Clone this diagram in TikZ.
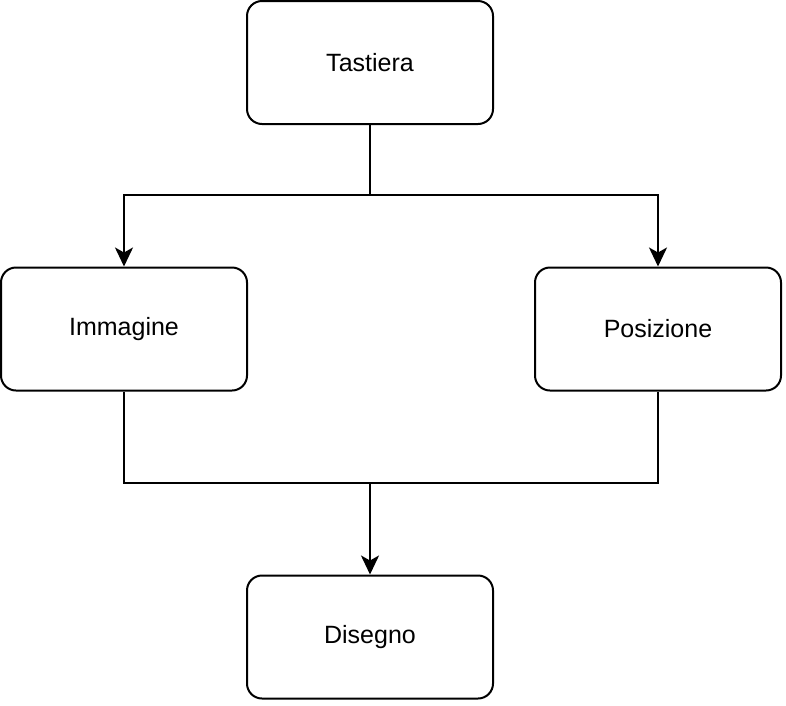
\documentclass[tikz,border=0pt]{standalone}
\usepackage{fontspec}
\setmainfont{Liberation Sans}
\usetikzlibrary{arrows.meta}
\begin{document}
\begin{tikzpicture}[x=1pt,y=-1pt,
  box/.style={draw=black,line width=2pt,rounded corners=15pt,minimum width=246pt,minimum height=123pt,inner sep=0pt,font=\fontsize{25}{29}\selectfont,fill=white},
  conn/.style={draw=black,line width=2pt},
  arr/.style={conn,-{Stealth[length=19pt,width=18pt,inset=5pt]}}]
\useasboundingbox (0,0) rectangle (786,705);
\node[box] (tas) at (370,62.5) {Tastiera};
\node[box] (imm) at (124,329) {Immagine};
\node[box] (pos) at (658,329) {Posizione};
\node[box] (dis) at (370,637) {Disegno};
\coordinate (split) at (370,195);
\coordinate (join) at (370,483);
\draw[conn] (tas.south) -- (split);
\draw[arr] (split) -| (imm.north);
\draw[arr] (split) -| (pos.north);
\draw[conn] (imm.south) |- (join) -| (pos.south);
\draw[arr] (join) -- (dis.north);
\end{tikzpicture}
\end{document}
